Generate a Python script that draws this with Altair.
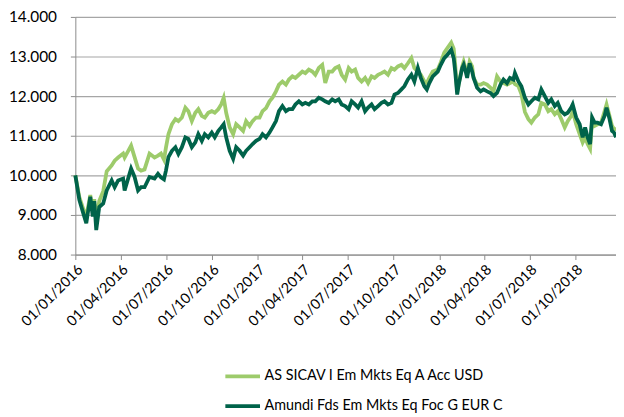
import altair as alt
import pandas as pd

series_names = ["AS SICAV I Em Mkts Eq A Acc USD", "Amundi Fds Em Mkts Eq Foc G EUR C"]
series_colors = ["#9DCB6B", "#00634A"]

dates = [
    "2016-01-01", "2016-01-09", "2016-01-17", "2016-01-23", "2016-01-31", "2016-02-05", "2016-02-08",
    "2016-02-12", "2016-02-18", "2016-02-26", "2016-03-04", "2016-03-14", "2016-03-20", "2016-03-27",
    "2016-04-06", "2016-04-09", "2016-04-22", "2016-04-29", "2016-05-06", "2016-05-12", "2016-05-19",
    "2016-05-29", "2016-06-08", "2016-06-15", "2016-06-21", "2016-06-27", "2016-07-01", "2016-07-06",
    "2016-07-13", "2016-07-20", "2016-07-26", "2016-08-02", "2016-08-09", "2016-08-15", "2016-08-22",
    "2016-08-29", "2016-09-04", "2016-09-11", "2016-09-17", "2016-09-24", "2016-10-01", "2016-10-07",
    "2016-10-14", "2016-10-20", "2016-10-25", "2016-10-30", "2016-11-06", "2016-11-13", "2016-11-19",
    "2016-11-26", "2016-12-03", "2016-12-09", "2016-12-16", "2016-12-22", "2016-12-29",
    "2017-01-05", "2017-01-11", "2017-01-18", "2017-01-25", "2017-01-31", "2017-02-07", "2017-02-13",
    "2017-02-20", "2017-02-27", "2017-03-05", "2017-03-12", "2017-03-18", "2017-03-25", "2017-04-01",
    "2017-04-07", "2017-04-14", "2017-04-21", "2017-04-27", "2017-05-04", "2017-05-11", "2017-05-17",
    "2017-05-24", "2017-05-31", "2017-06-06", "2017-06-13", "2017-06-19", "2017-06-26", "2017-07-03",
    "2017-07-09", "2017-07-16", "2017-07-22", "2017-07-29", "2017-08-05", "2017-08-11", "2017-08-18",
    "2017-08-24", "2017-08-31", "2017-09-07", "2017-09-13", "2017-09-20", "2017-09-27", "2017-10-03",
    "2017-10-10", "2017-10-17", "2017-10-23", "2017-10-30", "2017-11-06", "2017-11-12", "2017-11-19",
    "2017-11-25", "2017-12-02", "2017-12-07", "2017-12-12", "2017-12-19", "2017-12-29",
    "2018-01-04", "2018-01-11", "2018-01-17", "2018-01-25", "2018-01-30", "2018-02-02", "2018-02-06",
    "2018-02-09", "2018-02-16", "2018-02-19", "2018-02-23", "2018-02-26", "2018-03-03", "2018-03-08",
    "2018-03-11", "2018-03-18", "2018-03-25", "2018-03-31", "2018-04-07", "2018-04-14", "2018-04-20",
    "2018-04-27", "2018-05-04", "2018-05-10", "2018-05-17", "2018-05-23", "2018-05-30", "2018-06-02",
    "2018-06-09", "2018-06-15", "2018-06-22", "2018-06-29", "2018-07-05", "2018-07-12", "2018-07-19",
    "2018-07-25", "2018-08-01", "2018-08-08", "2018-08-14", "2018-08-21", "2018-08-27", "2018-09-03",
    "2018-09-10", "2018-09-16", "2018-09-23", "2018-09-26", "2018-10-03", "2018-10-10", "2018-10-16",
    "2018-10-21", "2018-10-26", "2018-10-31", "2018-11-04", "2018-11-09", "2018-11-15", "2018-11-22",
    "2018-11-29", "2018-12-03", "2018-12-09", "2018-12-14", "2018-12-18", "2018-12-22",
]

as_sicav = [
    10.00, 9.45, 9.15, 8.95, 9.50, 9.10, 9.40,
    8.85, 9.35, 9.60, 10.10, 10.25, 10.37, 10.45,
    10.55, 10.45, 10.75, 10.46, 10.17, 10.12, 10.15,
    10.55, 10.45, 10.50, 10.55, 10.40, 10.70, 11.04,
    11.29, 11.42, 11.37, 11.46, 11.71, 11.62, 11.37,
    11.58, 11.67, 11.50, 11.46, 11.58, 11.62, 11.58,
    11.67, 11.79, 11.96, 11.58, 11.21, 11.04, 11.29,
    11.21, 11.12, 11.37, 11.25, 11.37, 11.46,
    11.46, 11.62, 11.70, 11.87, 11.96, 12.12, 12.29,
    12.37, 12.29, 12.42, 12.50, 12.46, 12.54, 12.62,
    12.58, 12.67, 12.62, 12.54, 12.71, 12.79, 12.33,
    12.62, 12.62, 12.71, 12.75, 12.54, 12.42, 12.71,
    12.62, 12.67, 12.46, 12.37, 12.46, 12.33, 12.50,
    12.46, 12.54, 12.58, 12.62, 12.54, 12.71, 12.67,
    12.75, 12.79, 12.71, 12.83, 12.96, 12.71, 12.62,
    12.54, 12.37, 12.33, 12.46, 12.62, 12.67,
    12.85, 13.10, 13.21, 13.35, 13.20, 12.80, 12.10,
    12.30, 12.75, 12.87, 12.70, 12.54, 12.87, 12.75,
    12.46, 12.29, 12.29, 12.33, 12.29, 12.21, 12.12,
    12.50, 12.37, 12.33, 12.29, 12.33, 12.37, 12.30,
    12.25, 12.05, 11.60, 11.42, 11.33, 11.46, 11.54,
    11.83, 11.79, 11.62, 11.67, 11.54, 11.62, 11.42,
    11.21, 11.37, 11.50, 11.62, 11.29, 11.04, 10.83,
    10.96, 10.79, 10.67, 11.37, 11.25, 11.29, 11.33,
    11.62, 11.79, 11.50, 11.25, 11.17, 11.17,
]

amundi = [
    10.00, 9.38, 9.04, 8.79, 9.46, 8.96, 9.35,
    8.62, 9.20, 9.29, 9.62, 9.87, 9.70, 9.87,
    9.92, 9.62, 10.17, 9.96, 9.62, 9.70, 9.70,
    9.96, 9.92, 10.04, 9.95, 9.90, 10.12, 10.46,
    10.62, 10.71, 10.54, 10.71, 10.96, 10.92, 10.71,
    10.83, 11.04, 10.87, 11.04, 10.96, 11.08, 10.96,
    11.12, 11.21, 11.29, 10.96, 10.62, 10.42, 10.71,
    10.62, 10.50, 10.62, 10.71, 10.79, 10.87,
    10.92, 11.04, 10.96, 11.08, 11.21, 11.37, 11.62,
    11.75, 11.62, 11.67, 11.67, 11.79, 11.87, 11.79,
    11.83, 11.79, 11.87, 11.87, 11.96, 11.92, 11.87,
    11.83, 11.92, 11.87, 11.92, 11.79, 11.75, 11.67,
    11.87, 11.79, 11.71, 11.87, 11.62, 11.71, 11.79,
    11.67, 11.75, 11.83, 11.87, 11.79, 11.83, 12.04,
    12.08, 12.17, 12.25, 12.42, 12.54, 12.37, 12.71,
    12.46, 12.25, 12.17, 12.33, 12.50, 12.62,
    12.79, 12.96, 13.04, 13.17, 12.96, 12.62, 12.04,
    12.29, 12.71, 12.79, 12.62, 12.46, 12.83, 12.62,
    12.46, 12.21, 12.12, 12.17, 12.12, 12.08, 12.00,
    12.08, 12.29, 12.42, 12.33, 12.46, 12.42, 12.58,
    12.37, 12.25, 11.96, 11.79, 11.87, 11.96, 11.92,
    12.17, 12.00, 11.83, 11.92, 11.75, 11.83, 11.62,
    11.54, 11.58, 11.71, 11.79, 11.46, 11.29, 10.96,
    11.21, 10.96, 10.79, 11.46, 11.33, 11.33, 11.29,
    11.50, 11.71, 11.42, 11.12, 11.08, 10.96,
]

y_ticks = [8, 9, 10, 11, 12, 13, 14]
x_tick_dates = [(2016, 1), (2016, 4), (2016, 7), (2016, 10),
                (2017, 1), (2017, 4), (2017, 7), (2017, 10),
                (2018, 1), (2018, 4), (2018, 7), (2018, 10)]

n = len(dates)
df = pd.DataFrame({
    "date": pd.to_datetime(dates * 2),
    "value": as_sicav + amundi,
    "series": [series_names[0]] * n + [series_names[1]] * n,
})

font = "Lato"
axis_grey = "#8C8C8C"

chart = alt.Chart(df).mark_line(strokeWidth=3.8).encode(
    x=alt.X(
        "date:T",
        scale=alt.Scale(domain=[alt.DateTime(year=2016, month=1, date=1),
                                alt.DateTime(year=2018, month=12, date=22)]),
        axis=alt.Axis(
            values=[alt.DateTime(year=y, month=m, date=1) for y, m in x_tick_dates],
            format="%d/%m/%Y", labelAngle=-45, grid=False, title=None,
            domainColor=axis_grey, tickColor=axis_grey, tickSize=5,
            labelFont=font, labelFontSize=14.5, labelColor="#000000", labelPadding=3,
            labelOverlap=False,
        ),
    ),
    y=alt.Y(
        "value:Q",
        scale=alt.Scale(domain=[8, 14], nice=False, zero=False),
        axis=alt.Axis(
            values=y_ticks, format=".3f", title=None,
            domainColor=axis_grey, tickColor=axis_grey, tickSize=5,
            gridColor="#A6A6A6", gridWidth=1.2,
            labelFont=font, labelFontSize=15.5, labelColor="#000000", labelPadding=14,
        ),
    ),
    color=alt.Color(
        "series:N",
        scale=alt.Scale(domain=series_names, range=series_colors),
        legend=alt.Legend(
            title=None, orient="none", legendX=160, legendY=354, direction="vertical",
            symbolType="M-2.5,0L2.5,0", symbolSize=196, symbolStrokeWidth=3.8,
            labelFont=font, labelFontSize=14.5, labelColor="#000000",
            labelLimit=400, labelOffset=13, rowPadding=13,
        ),
    ),
).properties(
    width=546,
    height=240,
    autosize=alt.AutoSizeParams(type="none"),
    padding={"left": 68, "top": 7, "right": 0, "bottom": 160},
).configure_view(strokeWidth=0)

chart.save("out.html", embed_options={"renderer": "svg", "actions": False})
